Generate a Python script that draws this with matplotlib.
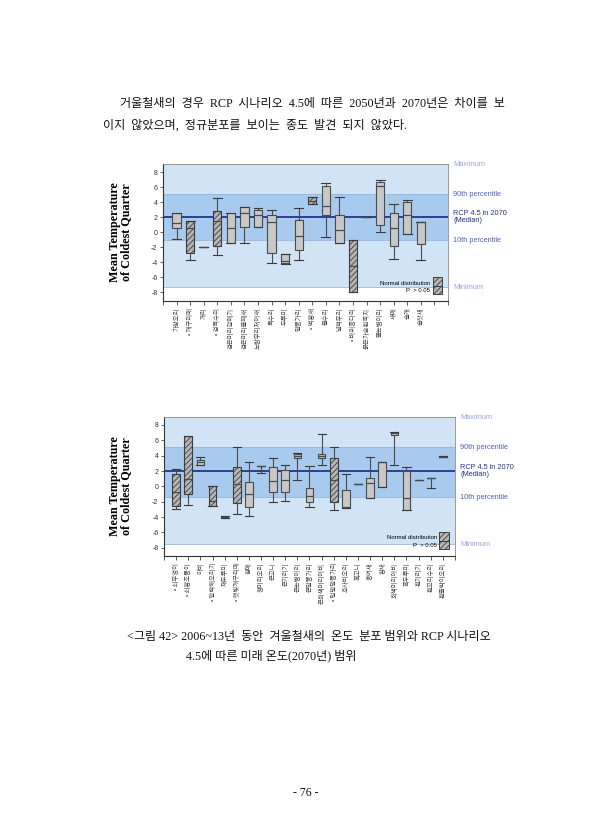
import matplotlib
matplotlib.use('Agg')
import matplotlib.pyplot as plt
from matplotlib.patches import Rectangle

plt.rcParams['hatch.linewidth'] = 0.6

SERIF_K = ['Liberation Serif', 'Noto Sans CJK KR']
SANS_K = ['Noto Sans CJK KR', 'DejaVu Sans']

# ---------------- data: panel 1 ----------------
p1_names = ['가창오리', '• 개구리매', '개리', '• 검독수리', '검은머리갈매기', '검은머리물떼새',
            '노랑부리저어새', '독수리', '두루미', '말똥가리', '• 먹황새', '물수리', '넓적부리',
            '• 바위종다리', '붉은가슴흰죽지', '뿔논병아리', '새매', '솔개', '솔잣새']
p1_q1 = [0.58, -2.84, -2.0, -1.91, -1.47, 0.71, 0.71, -2.84, -4.18, -2.44, 3.73, 2.36, -1.51, -8.04, 2.0, 1.02, -1.82, -0.31, -1.64]
p1_med = [1.16, 0.58, -2.0, 1.51, 0.62, 2.62, 2.31, 1.33, -3.87, -0.49, 4.2, 3.51, 0.27, -4.58, 2.0, 6.22, 0.53, 2.36, 1.33]
p1_q3 = [2.62, 1.55, -2.0, 2.89, 2.62, 3.42, 3.02, 2.31, -2.89, 1.56, 4.76, 6.13, 2.36, -1.11, 2.0, 6.67, 2.62, 4.04, 1.33]
p1_lo = [-0.98, -3.73, -2.0, -3.07, -1.47, -1.47, 0.71, -4.18, -4.2, -3.78, 3.73, -0.67, -1.51, -8.04, 2.0, 0.04, -3.64, -0.31, -3.73]
p1_hi = [2.62, 1.55, -2.0, 4.62, 2.62, 3.42, 3.29, 3.02, -2.89, 3.29, 4.76, 6.62, 4.71, -1.11, 2.0, 6.93, 3.78, 4.36, 1.33]
p1_normal = [0, 1, 0, 1, 0, 0, 0, 0, 0, 0, 1, 0, 0, 1, 0, 0, 0, 0, 0]
p1_band = {'max': 9.07, 'p90': 5.07, 'median': 2.0, 'p10': -1.07, 'min': -7.37}

# ---------------- data: panel 2 ----------------
p2_names = ['• 쇠부엉이', '• 쇠황조롱이', '아비', '• 알락해오라기', '재두루미', '• 잿빛개구리매', '참매',
            '청머리오리', '큰고니', '큰기러기', '큰논병아리', '큰말똥가리', '큰회색머리아비',
            '• 털발말똥가리', '호사비오리', '혹고니', '홍여새', '황새', '회색머리아비', '흑두루미',
            '흰기러기', '흰꼬리수리', '흰줄박이오리']
p2_q1 = [-2.52, -1.0, 2.83, -2.57, -4.13, -2.22, -2.65, 2.65, -0.7, -0.7, 3.65, -2.09, 3.65, -2.09, -2.78, 0.26, -1.57, -0.13, 6.7, -3.13, 0.78, 1.13, 3.78]
p2_med = [-0.74, 0.96, 3.13, -1.96, -4.0, 0.3, -1.0, 2.65, 0.74, 0.83, 4.0, -1.26, 3.9, 0.83, -2.7, 0.26, 0.39, 3.13, 6.9, -1.57, 0.78, 1.13, 3.87]
p2_q3 = [1.57, 6.57, 3.43, 0.09, -3.87, 2.57, 0.57, 2.65, 2.48, 2.17, 4.17, -0.26, 4.17, 3.74, -0.52, 0.26, 1.13, 3.13, 7.13, 2.0, 0.78, 1.13, 3.95]
p2_lo = [-2.96, -2.43, 2.83, -2.57, -4.13, -3.57, -3.87, 1.7, -2.04, -1.91, 0.83, -2.74, 2.78, -3.04, -2.78, 0.26, -1.57, -0.13, 2.78, -3.13, 0.78, -0.22, 3.78]
p2_hi = [2.22, 6.57, 3.87, 0.09, -3.87, 5.09, 3.22, 2.65, 3.74, 2.74, 4.35, 2.7, 6.83, 5.09, 1.57, 0.26, 3.83, 3.13, 7.13, 2.57, 0.78, 1.13, 3.95]
p2_normal = [1, 1, 0, 1, 0, 1, 0, 0, 0, 0, 0, 0, 0, 1, 0, 0, 0, 0, 0, 0, 0, 0, 0]
p2_band = {'max': 9.0, 'p90': 5.09, 'median': 2.04, 'p10': -1.43, 'min': -7.57}

yticks = [-8, -6, -4, -2, 0, 2, 4, 6, 8]
band_labels = ['Maximum', '90th percentile', 'RCP 4.5 in 2070\n(Median)', '10th percentile', 'Minimum']

# ---------------- figure ----------------
fig = plt.figure(figsize=(6.13, 8.40), dpi=100)
W, H = 613, 840

LIGHT = '#d0e4f6'
MID = '#a8caee'
NAVY = '#25338a'


def panel(rect, names, q1, med, q3, lo, hi, normal, band, ylim, nslots):
    ax = fig.add_axes(rect)
    ax.set_xlim(0, nslots)
    ax.set_ylim(*ylim)
    ax.axhspan(band['min'], band['max'], color=LIGHT, lw=0, zorder=0)
    ax.axhspan(band['p10'], band['p90'], color=MID, lw=0, zorder=0.5)
    for k in ('p90', 'p10', 'min'):
        ax.axhline(band[k], color='#93b6dd', lw=0.6, zorder=0.6)
    ax.axhline(band['median'], color=NAVY, lw=1.3, zorder=1)

    stats = []
    for i in range(len(names)):
        stats.append({'q1': q1[i], 'med': med[i], 'q3': q3[i],
                      'whislo': lo[i], 'whishi': hi[i], 'fliers': []})
    pos = list(range(1, len(names) + 1))
    bp = ax.bxp(stats, positions=pos, widths=0.62, capwidths=0.66,
                patch_artist=True, showfliers=False, manage_ticks=False,
                boxprops=dict(linewidth=0.8, edgecolor='#4a4a4a'),
                whiskerprops=dict(linewidth=0.8, color='#4a4a4a'),
                capprops=dict(linewidth=0.8, color='#3a3a3a'),
                medianprops=dict(linewidth=0.9, color='#4a4a4a'))
    for b, n in zip(bp['boxes'], normal):
        b.set_zorder(3)
        if n:
            b.set_facecolor('#b5b5b5')
            b.set_hatch('//////')
            b.set_edgecolor('#3c3c3c')
        else:
            b.set_facecolor('#c8c8c8')
    for key in ('whiskers', 'caps', 'medians'):
        for l in bp[key]:
            l.set_zorder(4)

    ax.set_xticks(range(0, nslots + 1))
    ax.set_xticklabels([''] + names + [''] * (nslots - len(names)),
                       rotation=90, fontsize=4.6, family=SANS_K, color='#444444')
    ax.tick_params(axis='x', length=3, width=0.6, color='#444444', pad=2)
    ax.set_yticks(yticks)
    ax.set_yticklabels([str(v) for v in yticks], fontsize=5, family='Liberation Sans', color='#333333')
    ax.tick_params(axis='y', length=2, width=0.6, color='#444444', pad=2)
    for s in ('top', 'right'):
        ax.spines[s].set_color('#8a8a8a')
        ax.spines[s].set_linewidth(0.6)
    for s in ('left', 'bottom'):
        ax.spines[s].set_color('#333333')
        ax.spines[s].set_linewidth(0.8)

    ax.set_ylabel('Mean Temperature\nof Coldest Quarter', family='Liberation Serif',
                  fontweight='bold', fontsize=8.7, linespacing=0.95, labelpad=4)

    # right side band labels
    vals = [ylim[1], band['p90'], band['median'], band['p10'], band['min']]
    cols = ['#9aa2d8', '#4f62b8', '#25338a', '#4f62b8', '#9aa2d8']
    for lab, v, c in zip(band_labels, vals, cols):
        ax.text(1.018, v, lab, transform=ax.get_yaxis_transform(), fontsize=5.3,
                family='Liberation Sans', color=c, va='center', ha='left',
                linespacing=1.05, clip_on=False)

    # legend box
    rx0, rx1, ry0, ry1 = 0.946, 0.978, 0.047, 0.172
    ax.add_patch(Rectangle((rx0, ry0), rx1 - rx0, ry1 - ry0, transform=ax.transAxes,
                           facecolor='#b5b5b5', edgecolor='#3c3c3c', hatch='//////',
                           lw=0.7, zorder=5, clip_on=False))
    ax.plot([rx0, rx1], [(ry0 + ry1) / 2] * 2, transform=ax.transAxes, color='#3c3c3c',
            lw=0.7, zorder=6)
    ax.text(0.938, 0.128, 'Normal distribution', transform=ax.transAxes, fontsize=4.3,
            family='Liberation Sans', ha='right', va='center', zorder=6)
    ax.text(0.938, 0.073, 'P  > 0.05', transform=ax.transAxes, fontsize=4.3,
            family='Liberation Sans', ha='right', va='center', zorder=6)
    return ax


ax1 = panel([163 / W, 1 - 300.7 / H, 285 / W, 136.4 / H], p1_names, p1_q1, p1_med, p1_q3,
            p1_lo, p1_hi, p1_normal, p1_band, (-9.16, 9.07), 21)
ax2 = panel([164 / W, 1 - 555.7 / H, 291 / W, 138.4 / H], p2_names, p2_q1, p2_med, p2_q3,
            p2_lo, p2_hi, p2_normal, p2_band, (-9.04, 9.0), 24)
for ax in (ax1, ax2):
    ax.yaxis.set_label_coords(-0.108, 0.5)

# ---------------- page text ----------------
fig.text(120 / W, 1 - 104 / H,
         '거울철새의  경우  RCP  시나리오  4.5에  따른  2050년과  2070년은  차이를  보',
         family=SERIF_K, fontsize=8.7, va='center', ha='left', color='#111111')
fig.text(103 / W, 1 - 126 / H,
         '이지  않았으며,  정규분포를  보이는  종도  발견  되지  않았다.',
         family=SERIF_K, fontsize=8.7, va='center', ha='left', color='#111111')
fig.text(127 / W, 1 - 637 / H,
         '<그림 42> 2006~13년  동안  겨울철새의  온도  분포 범위와 RCP 시나리오',
         family=SERIF_K, fontsize=8.7, va='center', ha='left', color='#111111')
fig.text(186 / W, 1 - 656 / H,
         '4.5에 따른 미래 온도(2070년) 범위',
         family=SERIF_K, fontsize=8.7, va='center', ha='left', color='#111111')
fig.text(306 / W, 1 - 793 / H, '- 76 -', family=SERIF_K, fontsize=8.5,
         va='center', ha='center', color='#111111')

fig.savefig('out.png', dpi=100)
